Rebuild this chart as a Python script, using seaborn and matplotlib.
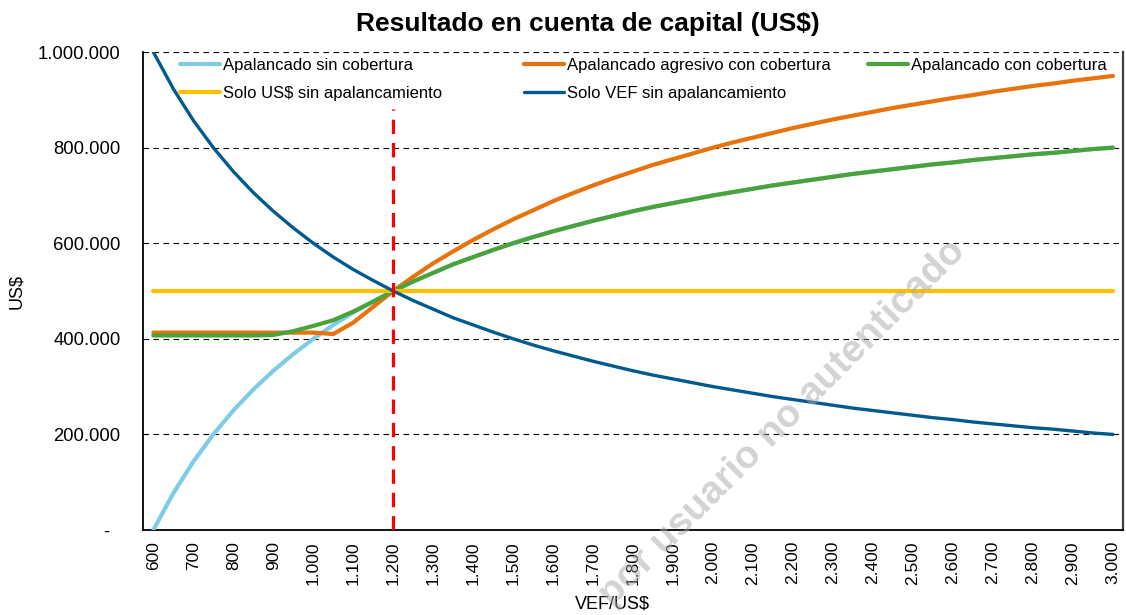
import numpy as np
import pandas as pd
import matplotlib
matplotlib.use("Agg")
import matplotlib.pyplot as plt
import seaborn as sns
from matplotlib.ticker import FuncFormatter, MultipleLocator

# tipo de cambio VEF/US$ (eje x, cada 50)
rate = np.arange(600, 3001, 50)

# valores en miles de US$
sin_cobertura = [0, 77, 143, 200, 250, 294, 333, 368, 400, 429, 455, 478, 500,
                 520, 538, 556, 571, 586, 600, 613, 625, 636, 647, 657, 667, 676,
                 684, 692, 700, 707, 714, 721, 727, 733, 739, 745, 750, 755, 760,
                 765, 769, 774, 778, 782, 786, 789, 793, 797, 800]
agresivo = [413, 413, 413, 413, 413, 413, 413, 413, 413, 410, 434, 467, 500,
            530, 558, 583, 607, 629, 650, 669, 688, 705, 721, 736, 750, 764,
            776, 788, 800, 811, 821, 831, 841, 850, 859, 867, 875, 883, 890,
            897, 904, 910, 917, 923, 929, 934, 940, 945, 950]
con_cobertura = [407, 407, 407, 407, 407, 407, 408, 416, 427, 439, 457, 478, 500,
                 520, 538, 556, 571, 586, 600, 613, 625, 636, 647, 657, 667, 676,
                 684, 692, 700, 707, 714, 721, 727, 733, 739, 745, 750, 755, 760,
                 765, 769, 774, 778, 782, 786, 789, 793, 797, 800]
solo_usd = [500] * len(rate)
solo_vef = [1000, 923, 857, 800, 750, 706, 667, 632, 600, 571, 545, 522, 500,
            480, 462, 444, 429, 414, 400, 387, 375, 364, 353, 343, 333, 324,
            316, 308, 300, 293, 286, 279, 273, 267, 261, 255, 250, 245, 240,
            235, 231, 226, 222, 218, 214, 211, 207, 203, 200]

# tipo de cambio de referencia (línea roja)
ref_rate = 1200
ref_top = 880

series = [
    ("Apalancado sin cobertura", sin_cobertura, "#7FCCE6", 3.0),
    ("Apalancado agresivo con cobertura", agresivo, "#E8720C", 3.0),
    ("Apalancado con cobertura", con_cobertura, "#4AA33A", 3.0),
    ("Solo US$ sin apalancamiento", solo_usd, "#FFC000", 3.0),
    ("Solo VEF sin apalancamiento", solo_vef, "#005A8E", 2.4),
]

sns.set_style("white")
plt.rcParams["font.family"] = ["Liberation Sans", "DejaVu Sans"]
plt.rcParams["text.color"] = "black"
plt.rcParams["axes.labelcolor"] = "black"

fig = plt.figure(figsize=(11.26, 6.15), dpi=100)
ax = fig.add_axes([0.1273, 0.1382, 0.8700, 0.7772])

lines = {}
for name, vals, color, lw in series:
    df = pd.DataFrame({"VEF/US$": rate, "US$": np.array(vals) * 1000})
    sns.lineplot(data=df, x="VEF/US$", y="US$", color=color, linewidth=lw,
                 ax=ax, label=name, legend=False, solid_capstyle="round",
                 solid_joinstyle="round", zorder=3)
    lines[name] = ax.get_lines()[-1]

ax.vlines(ref_rate, 0, ref_top * 1000, colors="#FF0000", linewidth=2.3,
          linestyles=(0, (4.5, 2.8)), zorder=4)

# marca de agua
fig.text(0.695, 0.312, "por usuario no autenticado", rotation=45,
         ha="center", va="center", fontsize=28, fontweight="bold",
         color="#a8a8a8", alpha=0.5, zorder=10)

ax.set_xlim(575, 3025)
ax.set_ylim(0, 1000000)
ax.xaxis.set_major_locator(MultipleLocator(100))
ax.yaxis.set_major_locator(MultipleLocator(200000))


def miles(v, pos=None):
    if abs(v) < 1e-9:
        return "-  "
    return f"{v:,.0f}".replace(",", ".")


ax.xaxis.set_major_formatter(FuncFormatter(miles))
ax.yaxis.set_major_formatter(FuncFormatter(miles))
plt.setp(ax.get_xticklabels(), rotation=90)
ax.tick_params(axis="both", length=0, colors="black")
ax.tick_params(axis="x", pad=8, labelsize=12.5)
ax.tick_params(axis="y", pad=16.3, labelsize=13.3)

ax.yaxis.grid(True, color="black", linestyle=(0, (5, 4)), linewidth=0.8)
ax.xaxis.grid(False)
ax.set_axisbelow(True)

ax.spines["top"].set_visible(False)
for s in ["left", "bottom"]:
    ax.spines[s].set_color("black")
    ax.spines[s].set_linewidth(1.3)
ax.spines["right"].set_color("#404040")
ax.spines["right"].set_linewidth(1.6)

ax.set_xlabel("VEF/US$", fontsize=13)
ax.set_ylabel("US$", fontsize=13)
ax.xaxis.set_label_coords(0.479, -0.136)
ax.yaxis.set_label_coords(-0.121, 0.5)

fig.text(0.522, 0.961, "Resultado en cuenta de capital (US$)", fontsize=19,
         fontweight="bold", ha="center", va="center")

# leyenda en tres columnas
cols = [
    (0.0375, ["Apalancado sin cobertura", "Solo US$ sin apalancamiento"]),
    (0.3886, ["Apalancado agresivo con cobertura", "Solo VEF sin apalancamiento"]),
    (0.7397, ["Apalancado con cobertura"]),
]
for xpos, names in cols:
    leg = ax.legend([lines[n] for n in names], names, loc="upper left",
                    bbox_to_anchor=(xpos, 0.9875), frameon=False, fontsize=12,
                    handlelength=2.4, handletextpad=0.18, labelspacing=0.75,
                    borderpad=0, borderaxespad=0)
    ax.add_artist(leg)
ax.legend_ = None

fig.savefig("out.png", dpi=100)
